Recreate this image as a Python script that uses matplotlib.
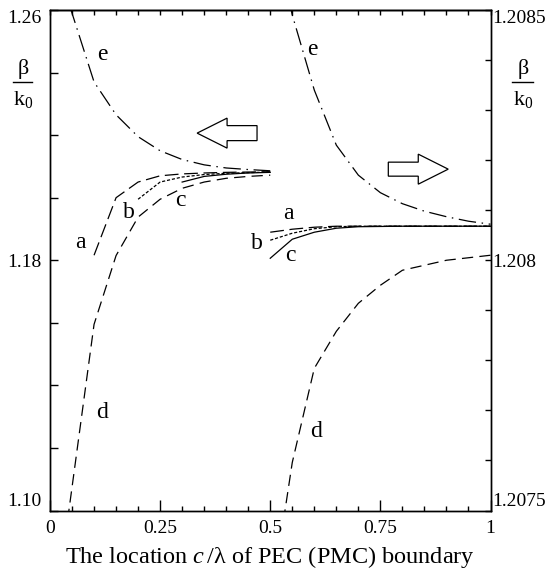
import numpy as np
import matplotlib
matplotlib.use("Agg")
import matplotlib.pyplot as plt
from matplotlib.patches import FancyArrow
from matplotlib.lines import Line2D

plt.rcParams['font.family'] = ['Liberation Serif', 'DejaVu Serif']
plt.rcParams['mathtext.fontset'] = 'custom'
plt.rcParams['mathtext.rm'] = 'Liberation Serif'
plt.rcParams['mathtext.it'] = 'Liberation Serif:italic'

# left half: boundary moves toward x = 0 (left axis)
xa_left = [0.10, 0.15, 0.20, 0.25, 0.30, 0.35, 0.40, 0.45, 0.50]
ya_left = [1.1816, 1.2000, 1.2050, 1.2070, 1.2076, 1.2079, 1.2081, 1.2082, 1.2083]
xb_left = [0.20, 0.25, 0.30, 0.35, 0.40, 0.45, 0.50]
yb_left = [1.1995, 1.2050, 1.2066, 1.2074, 1.2078, 1.2080, 1.2082]
xc_left = [0.30, 0.35, 0.40, 0.45, 0.50]
yc_left = [1.2050, 1.2068, 1.2075, 1.2079, 1.2081]
xd_left = [0.04, 0.10, 0.15, 0.20, 0.25, 0.30, 0.35, 0.40, 0.45, 0.50]
yd_left = [1.0970, 1.1595, 1.1815, 1.1938, 1.1995, 1.2030, 1.2050, 1.2062, 1.2068, 1.2072]
xe_left = [0.045, 0.10, 0.15, 0.20, 0.25, 0.30, 0.35, 0.40, 0.45, 0.50]
ye_left = [1.2612, 1.2370, 1.2265, 1.2195, 1.2150, 1.2122, 1.2105, 1.2095, 1.2090, 1.2086]

# right half: boundary moves toward x = 1 (right axis)
xa_right = [0.50, 0.55, 0.60, 0.65, 0.70, 0.80, 0.90, 1.00]
ya_right = [1.208056, 1.208062, 1.208066, 1.208068, 1.208068, 1.208068, 1.208068, 1.208068]
xb_right = [0.50, 0.55, 0.60, 0.65, 0.70, 0.80, 0.90, 1.00]
yb_right = [1.208040, 1.208054, 1.208063, 1.208067, 1.208068, 1.208068, 1.208068, 1.208068]
xc_right = [0.50, 0.55, 0.60, 0.65, 0.70, 0.80, 0.90, 1.00]
yc_right = [1.208004, 1.208042, 1.208056, 1.208064, 1.208067, 1.208068, 1.208068, 1.208068]
xd_right = [0.53, 0.55, 0.60, 0.65, 0.70, 0.75, 0.80, 0.85, 0.90, 0.95, 1.00]
yd_right = [1.207480, 1.207596, 1.207784, 1.207858, 1.207914, 1.207950, 1.207980,
            1.207990, 1.208000, 1.208005, 1.208010]
xe_right = [0.54, 0.55, 0.60, 0.65, 0.70, 0.75, 0.80, 0.85, 0.90, 0.95, 1.00]
ye_right = [1.208530, 1.208490, 1.208340, 1.208230, 1.208170, 1.208135, 1.208113,
            1.208098, 1.208087, 1.208078, 1.208072]

xticks = [0, 0.25, 0.5, 0.75, 1]
xticklabels = ['0', '0.25', '0.5', '0.75', '1']
left_ticks = [1.10, 1.18, 1.26]
left_ticklabels = ['1.10', '1.18', '1.26']
right_ticks = [1.2075, 1.208, 1.2085]
right_ticklabels = ['1.2075', '1.208', '1.2085']

styles = {
    'a': dict(color='black', lw=0.9, linestyle=(0, (11, 4.5))),
    'b': dict(color='black', lw=0.9, linestyle=(0, (2.5, 1.5))),
    'c': dict(color='black', lw=0.9, linestyle='-'),
    'd': dict(color='black', lw=0.9, linestyle=(0, (9, 5))),
    'e': dict(color='black', lw=0.9, linestyle=(0, (14, 4.5, 1.2, 4.5))),
}

fig = plt.figure(figsize=(5.49, 5.72), dpi=100)
ax = fig.add_axes([50 / 549, 1 - 510.5 / 572, 440.5 / 549, 500.5 / 572])
ax2 = ax.twinx()

ax.plot(xa_left, ya_left, **styles['a'])
ax.plot(xb_left, yb_left, **styles['b'])
ax.plot(xc_left, yc_left, **styles['c'])
ax.plot(xd_left, yd_left, **styles['d'])
ax.plot(xe_left, ye_left, **styles['e'])

ax2.plot(xa_right, ya_right, **styles['a'])
ax2.plot(xb_right, yb_right, **styles['b'])
ax2.plot(xc_right, yc_right, **styles['c'])
ax2.plot(xd_right, yd_right, **styles['d'])
ax2.plot(xe_right, ye_right, **styles['e'])

ax.set_xlim(0, 1)
ax.set_ylim(1.10, 1.26)
ax2.set_ylim(1.2075, 1.2085)

ax.set_xticks(xticks)
ax.set_xticklabels(xticklabels, fontsize=14)
ax.set_xticks(np.arange(0, 1.001, 0.05), minor=True)
ax.set_yticks(left_ticks)
ax.set_yticklabels(left_ticklabels, fontsize=14)
ax.set_yticks(np.arange(1.10, 1.2601, 0.02), minor=True)
ax2.set_yticks(right_ticks)
ax2.set_yticklabels(right_ticklabels, fontsize=14)
ax2.set_yticks(np.arange(1.2075, 1.20851, 0.0001), minor=True)

ax.tick_params(axis='x', which='major', direction='in', length=8, width=1, pad=7)
ax.tick_params(axis='x', which='minor', direction='in', length=3.5, width=1)
ax.tick_params(axis='y', which='both', direction='in', length=6, width=1, pad=6)
ax2.tick_params(axis='y', which='both', direction='in', length=4.5, width=1, pad=1)

top = ax.secondary_xaxis('top')
top.set_xticks(np.arange(0, 1.001, 0.05))
top.tick_params(direction='in', length=3.5, width=1, labeltop=False)

for a in (ax, ax2, top):
    for s in a.spines.values():
        s.set_linewidth(1.0)

for labels in (ax.get_yticklabels(), ax2.get_yticklabels()):
    labels[0].set_va('bottom')
    labels[-1].set_va('top')

ax.set_xlabel('The location $c\\,$/λ of PEC (PMC) boundary', fontsize=17.5, labelpad=5)

# curve labels
for name, x, y in [('e', 0.12, 0.912), ('a', 0.068, 0.536), ('b', 0.178, 0.596),
                   ('c', 0.296, 0.62), ('d', 0.118, 0.196),
                   ('e', 0.595, 0.922), ('a', 0.541, 0.594), ('b', 0.47, 0.534),
                   ('c', 0.545, 0.51), ('d', 0.603, 0.158)]:
    ax.text(x, y, name, transform=ax.transAxes, fontsize=17, ha='center', va='center')

# arrows
ax.add_patch(FancyArrow(0.470, 0.754, -0.136, 0, width=0.03, head_width=0.06,
                        head_length=0.068, length_includes_head=True,
                        transform=ax.transAxes, fc='white', ec='black', lw=0.9))
ax.add_patch(FancyArrow(0.768, 0.682, 0.136, 0, width=0.028, head_width=0.06,
                        head_length=0.068, length_includes_head=True,
                        transform=ax.transAxes, fc='white', ec='black', lw=0.9))

# beta / k0 axis labels
for xc, x0, x1 in [(23.5, 13, 32), (523.5, 512, 533)]:
    fig.text(xc / 549, 1 - 74 / 572, 'β', fontsize=16, ha='center', va='baseline')
    fig.add_artist(Line2D([x0 / 549, x1 / 549], [1 - 82 / 572] * 2,
                          transform=fig.transFigure, color='black', lw=1.0))
    fig.text(xc / 549, 1 - 105 / 572, 'k$_\\mathrm{0}$', fontsize=16, ha='center',
             va='baseline')

fig.savefig('out.png', dpi=100)
